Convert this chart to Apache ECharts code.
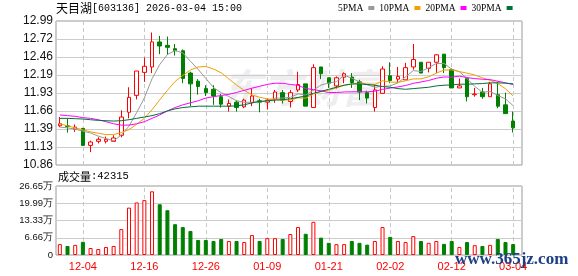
<!DOCTYPE html>
<html><head><meta charset="utf-8">
<script src="https://cdn.jsdelivr.net/npm/echarts@6/dist/echarts.min.js"></script>
<style>html,body{margin:0;padding:0;background:#fff}#c{width:578px;height:276px}</style>
</head><body><div id="c"></div>
<script>
const dates = ['12-01','12-02','12-03','12-04','12-05','12-08','12-09','12-10','12-11','12-12','12-15','12-16','12-17','12-18','12-19','12-22','12-23','12-24','12-25','12-26','12-29','12-30','12-31','01-05','01-06','01-07','01-08','01-09','01-12','01-13','01-14','01-15','01-16','01-19','01-20','01-21','01-22','01-23','01-26','01-27','01-28','01-29','01-30','02-02','02-03','02-04','02-05','02-06','02-09','02-10','02-11','02-12','02-13','02-24','02-25','02-26','02-27','03-02','03-03','03-04'];
const opens = [11.44,11.44,11.39,11.40,11.15,11.21,11.21,11.21,11.30,11.64,11.89,12.23,12.31,12.68,12.63,12.58,12.55,12.22,12.10,11.99,11.98,11.87,11.73,11.79,11.72,11.78,11.81,11.79,11.83,11.93,11.80,11.97,12.06,11.71,12.31,12.15,12.03,12.16,12.16,12.09,11.93,11.71,11.92,12.18,12.13,12.12,12.31,12.38,12.29,12.38,12.50,12.27,12.00,12.14,11.90,11.94,11.87,11.90,11.75,11.51];
const closes = [11.47,11.43,11.42,11.15,11.20,11.24,11.24,11.26,11.57,11.86,12.25,12.32,12.68,12.62,12.60,12.55,12.14,12.06,12.02,11.93,11.88,11.76,11.77,11.71,11.82,11.88,11.79,11.82,11.94,11.82,11.93,12.05,11.73,12.30,12.21,12.07,12.15,12.21,12.08,11.94,11.85,11.97,12.28,12.11,12.17,12.30,12.42,12.22,12.38,12.49,12.30,12.00,12.03,11.87,11.91,11.87,12.06,11.73,11.62,11.41];
const lows = [11.42,11.34,11.35,11.14,11.05,11.18,11.18,11.21,11.27,11.55,11.83,12.09,12.22,12.50,12.49,12.48,12.07,11.73,11.90,11.88,11.75,11.71,11.65,11.65,11.70,11.73,11.64,11.68,11.78,11.77,11.71,11.94,11.73,11.71,12.13,12.00,11.99,12.07,12.00,11.82,11.77,11.65,11.92,12.07,12.07,12.12,12.27,12.22,12.23,12.22,12.22,12.00,12.00,11.80,11.87,11.84,11.87,11.70,11.62,11.34];
const highs = [11.57,11.55,11.46,11.41,11.22,11.27,11.28,11.30,11.67,12.01,12.25,12.45,12.82,12.77,12.76,12.65,12.57,12.24,12.13,12.04,12.04,11.91,11.83,11.82,11.84,11.99,11.84,11.84,11.97,11.97,11.97,12.24,12.06,12.35,12.31,12.15,12.17,12.23,12.22,12.12,11.96,12.05,12.32,12.38,12.31,12.37,12.65,12.38,12.38,12.50,12.50,12.29,12.14,12.16,12.00,12.00,12.09,12.09,11.93,11.65];
const volumes = [42000,35000,39000,51000,27000,23000,31000,35000,100000,183000,203000,212000,246000,196000,173000,119000,108000,93000,58000,58000,54000,62000,54000,54000,50000,77000,54000,65000,65000,62000,81000,108000,82000,128000,67000,47000,42000,42000,54000,47000,40000,54000,108000,70000,54000,50000,73000,54000,47000,54000,43000,54000,31000,50000,38000,35000,39000,62000,50000,42315];
const ma5 = [11.42,11.41,11.39,11.36,11.334,11.288,11.25,11.218,11.302,11.434,11.636,11.852,12.136,12.346,12.494,12.554,12.518,12.394,12.274,12.14,12.006,11.93,11.872,11.81,11.788,11.788,11.794,11.804,11.85,11.85,11.86,11.912,11.894,11.966,12.044,12.072,12.092,12.188,12.144,12.09,12.046,12.01,12.024,12.03,12.076,12.166,12.256,12.244,12.298,12.362,12.362,12.278,12.24,12.138,12.022,11.936,11.948,11.888,11.838,11.738];
const ma10 = [11.47,11.44,11.41,11.38,11.35,11.33,11.31,11.31,11.34,11.384,11.462,11.551,11.677,11.824,11.964,12.095,12.185,12.265,12.31,12.317,12.28,12.224,12.133,12.042,11.964,11.897,11.862,11.838,11.83,11.819,11.824,11.853,11.849,11.908,11.947,11.966,12.002,12.041,12.055,12.067,12.059,12.051,12.106,12.087,12.083,12.106,12.133,12.134,12.164,12.219,12.264,12.267,12.242,12.218,12.192,12.149,12.113,12.064,11.988,11.88];
const ma20 = [11.60,11.59,11.58,11.56,11.55,11.53,11.50,11.47,11.45,11.45,11.47,11.50,11.55,11.60,11.66,11.71,11.75,11.78,11.81,11.85,11.871,11.888,11.905,11.933,11.964,11.996,12.024,12.052,12.07,12.068,12.052,12.039,11.991,11.975,11.956,11.932,11.932,11.94,11.943,11.943,11.942,11.952,11.978,11.998,12.015,12.036,12.068,12.088,12.11,12.143,12.162,12.159,12.174,12.153,12.138,12.128,12.123,12.099,12.076,12.05];
const ma30 = [11.55,11.55,11.545,11.54,11.53,11.52,11.515,11.51,11.515,11.53,11.55,11.57,11.59,11.62,11.66,11.69,11.71,11.72,11.73,11.73,11.73,11.73,11.73,11.735,11.75,11.78,11.80,11.81,11.82,11.825,11.84,11.86,11.88,11.92,11.95,11.98,12.01,12.04,12.06,12.06,12.05,12.04,12.02,12.01,11.99,11.98,11.99,12.00,12.01,12.03,12.04,12.045,12.055,12.055,12.06,12.065,12.075,12.075,12.07,12.06];
const priceTicks = ['10.86','11.13','11.39','11.66','11.93','12.19','12.46','12.72','12.99'];
const volTicks = ['0','6.66万','13.33万','19.99万','26.65万'];
const labelDates = ['12-04','12-16','12-26','01-09','01-21','02-02','02-12','03-04'];

const RED = '#ff0000', GREEN = '#008000';
const monoCJK = "'Liberation Mono','Noto Sans CJK SC',monospace";
const candleData = dates.map((d, i) => [opens[i], closes[i], lows[i], highs[i]]);
const volData = volumes.map((v, i) => {
  const up = closes[i] >= opens[i];
  return { value: v, itemStyle: up ? { color: '#fff', borderColor: RED, borderWidth: 1 } : { color: GREEN, borderColor: GREEN, borderWidth: 1 } };
});
const labelIdx = labelDates.map(d => dates.indexOf(d));
const vLines = labelDates.map(d => ({ xAxis: d }));
const vLineStyle = { color: '#c8c8c8', type: [4, 3], width: 1 };

const chart = echarts.init(document.getElementById('c'));
chart.setOption({
  animation: false,
  backgroundColor: '#fff',
  title: [
    { text: '{c|天目湖}[603136] 2026-03-04 15:00', left: 56, top: 2, padding: 0,
      textStyle: { fontFamily: monoCJK, fontSize: 10, fontWeight: 'normal', color: '#000',
        rich: { c: { fontFamily: "'Noto Sans CJK SC'", fontSize: 12, color: '#000' } } } },
    { text: '{c|成交量}:42315', left: 58, top: 171, padding: 0,
      textStyle: { fontFamily: monoCJK, fontSize: 10.5, fontWeight: 'normal', color: '#000',
        rich: { c: { fontFamily: "'Noto Sans CJK SC'", fontSize: 11, color: '#000' } } } }
  ],
  legend: {
    left: 338, top: 3, padding: 0, itemWidth: 6, itemHeight: 4, itemGap: 5, align: 'right', icon: 'rect',
    textStyle: { fontFamily: 'Liberation Serif', fontSize: 9.5, color: '#000' },
    data: ['5PMA', '10PMA', '20PMA', '30PMA']
  },
  graphic: [
    { type: 'text', x: 222, y: 68, z: 0, silent: true,
      style: { text: '东方财富', font: 'italic bold 40px "Noto Sans CJK SC"', fill: 'rgba(200,200,210,0.3)' } },
    { type: 'text', x: 455, y: 251, z: 100, silent: true,
      style: { text: 'www.365jz.com', font: 'bold 17px "Liberation Serif"', fill: '#1e3f86' } }
  ],
  grid: [
    { left: 56, top: 21, width: 466, height: 144, show: true, borderColor: '#999', borderWidth: 1, backgroundColor: 'transparent' },
    { left: 56, top: 21, width: 461, height: 144 },
    { left: 56, top: 186, width: 466, height: 69, show: true, borderColor: '#999', borderWidth: 1, backgroundColor: 'transparent' },
    { left: 56, top: 186, width: 461, height: 69 }
  ],
  xAxis: [
    { gridIndex: 0, type: 'value', min: 0, max: 1, show: false },
    { gridIndex: 1, type: 'category', data: dates, boundaryGap: true, show: false },
    { gridIndex: 2, type: 'value', min: 0, max: 1, show: false },
    { gridIndex: 3, type: 'category', data: dates, boundaryGap: true,
      axisLine: { show: false }, axisTick: { show: false }, splitLine: { show: false },
      axisLabel: { interval: (i) => labelIdx.includes(i), color: RED, fontFamily: 'Arial', fontSize: 11, margin: 6 } }
  ],
  yAxis: [
    { gridIndex: 0, type: 'value', min: 0, max: 8, interval: 1,
      axisLine: { show: false }, axisTick: { show: false },
      splitLine: { show: true, lineStyle: { color: '#ccc', width: 1 } },
      axisLabel: { formatter: v => priceTicks[v], margin: 3, color: '#111', fontFamily: 'Arial', fontSize: 12 } },
    { gridIndex: 1, type: 'value', min: 10.86, max: 12.99, show: false, splitLine: { show: false } },
    { gridIndex: 2, type: 'value', min: 0, max: 4, interval: 1,
      axisLine: { show: false }, axisTick: { show: false },
      splitLine: { show: true, lineStyle: { color: '#ccc', width: 1 } },
      axisLabel: { formatter: v => volTicks[v], margin: 3, color: '#111', fontFamily: 'Arial', fontSize: 9.5 } },
    { gridIndex: 3, type: 'value', min: 0, max: 266500, show: false, splitLine: { show: false } }
  ],
  series: [
    { name: 'K', type: 'candlestick', xAxisIndex: 1, yAxisIndex: 1, data: candleData, barWidth: 4,
      itemStyle: { color: '#fff', color0: GREEN, borderColor: RED, borderColor0: GREEN, borderWidth: 1 },
      markLine: { silent: true, symbol: ['none', 'none'], label: { show: false }, z: 1,
        lineStyle: vLineStyle, data: vLines } },
    { name: '5PMA', type: 'line', xAxisIndex: 1, yAxisIndex: 1, data: ma5, symbol: 'none', color: '#999',
      lineStyle: { width: 1, color: '#999' } },
    { name: '10PMA', type: 'line', xAxisIndex: 1, yAxisIndex: 1, data: ma10, symbol: 'none', color: '#f0a000',
      lineStyle: { width: 1, color: '#f0a000' } },
    { name: '20PMA', type: 'line', xAxisIndex: 1, yAxisIndex: 1, data: ma20, symbol: 'none', color: '#ff00ff',
      lineStyle: { width: 1, color: '#ff00ff' } },
    { name: '30PMA', type: 'line', xAxisIndex: 1, yAxisIndex: 1, data: ma30, symbol: 'none', color: '#00703c',
      lineStyle: { width: 1, color: '#00703c' } },
    { name: 'VOL', type: 'bar', xAxisIndex: 3, yAxisIndex: 3, data: volData, barWidth: 4,
      markLine: { silent: true, symbol: ['none', 'none'], label: { show: false }, z: 1,
        lineStyle: vLineStyle, data: vLines } }
  ]
});
</script></body></html>
